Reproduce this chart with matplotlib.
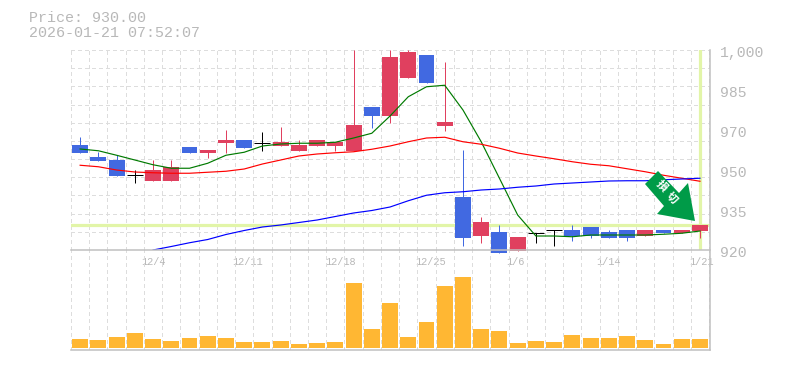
import matplotlib
matplotlib.use('Agg')
import matplotlib.pyplot as plt
from matplotlib.patches import Polygon

W, H = 785, 370

# price candles
opens = [962.0, 957.2, 956.0, 950.0, 947.6, 947.6, 961.2, 958.8, 962.8, 964.0, 963.0, 961.6,
         959.6, 961.6, 961.6, 959.6, 977.2, 973.6, 988.8, 998.0, 969.6, 941.2, 925.6, 927.2,
         919.6, 927.0, 927.9, 928.0, 929.2, 927.2, 928.0, 925.6, 928.0, 926.8, 927.6]
closes = [958.8, 955.6, 949.6, 950.0, 952.0, 953.2, 958.8, 960.0, 964.0, 960.8, 963.0, 963.2,
          962.0, 964.0, 963.2, 970.0, 973.6, 997.2, 999.2, 986.8, 971.2, 924.8, 931.2, 918.8,
          925.2, 927.0, 927.9, 925.6, 925.6, 924.8, 924.8, 928.0, 926.8, 928.0, 930.0]
highs = [965.2, 959.1, 958.0, 952.0, 956.0, 956.0, 961.2, 960.0, 968.0, 964.0, 967.2, 969.2,
         964.0, 964.0, 963.2, 1000.0, 977.2, 1000.0, 1000.0, 998.0, 995.2, 960.0, 933.2, 930.0,
         925.2, 927.0, 927.9, 930.0, 929.2, 928.0, 928.0, 928.0, 928.0, 928.0, 930.0]
lows = [958.8, 955.6, 949.6, 946.8, 947.6, 947.6, 958.8, 956.8, 958.8, 960.8, 959.6, 961.6,
        959.6, 961.6, 959.6, 959.6, 968.8, 970.8, 988.8, 986.8, 967.6, 921.6, 922.8, 918.8,
        919.6, 922.8, 921.6, 923.6, 924.8, 924.8, 923.6, 925.6, 926.8, 926.8, 924.8]

# moving averages
ma_short = [960.4, 959.7, 957.9, 956.0, 954.1, 952.7, 952.7, 954.7, 957.9, 959.1, 961.6, 962.4,
            962.7, 962.7, 963.1, 964.8, 966.7, 973.6, 981.3, 985.3, 985.9, 976.0, 963.3, 948.7,
            934.0, 925.6, 925.6, 925.3, 926.0, 926.0, 926.0, 926.0, 926.3, 926.7, 927.6]
ma_mid = [953.9, 953.3, 952.0, 951.2, 950.9, 950.7, 950.7, 951.1, 951.5, 952.4, 954.4, 956.0,
          957.6, 958.4, 958.9, 959.3, 960.3, 961.6, 963.3, 964.8, 965.1, 963.3, 962.3, 960.7,
          958.8, 957.6, 956.5, 955.3, 954.3, 953.7, 952.5, 951.3, 949.9, 948.7, 947.5]
ma_long = [920.0, 921.4, 922.9, 924.2, 926.2, 927.8, 929.2, 930.0, 931.0, 932.0, 933.4, 934.8,
           935.8, 937.2, 939.7, 941.9, 942.9, 943.3, 944.0, 944.4, 945.1, 945.6, 946.4, 946.8,
           947.2, 947.6, 947.7, 947.7, 948.1, 948.4, 948.7]
ma_long_start = 4

volume = [9, 8, 11, 15, 9, 7, 10, 12, 10, 6, 6, 7, 4, 5, 6, 65, 19, 45,
          11, 26, 62, 71, 19, 17, 5, 7, 6, 13, 10, 10, 12, 8, 4, 9, 9]

x_tick_pos = [4, 9.2, 14.3, 19.2, 23.9, 29, 34.1]
x_tick_labels = ['12/4', '12/11', '12/18', '12/25', '1/6', '1/14', '1/21']
y_tick_vals = [1000, 984, 968, 952, 936, 920]
y_tick_labels = ['1,000', '985', '970', '950', '935', '920']

last_price = 930.0
title_lines = ['Price: 930.00', '2026-01-21 07:52:07']

RED = '#E0405F'
BLUE = '#4169E1'
GRID = '#DDDDDD'
AXIS = '#C0C0C0'
TEXT = '#B8B8B8'
LIME = '#E2F5A8'
MONO = 'Liberation Mono'
PX = 0.72  # one pixel in points


def pixel_axes(fig, left, top, right, bottom):
    return fig.add_axes([left / W, 1 - bottom / H, (right - left) / W, (bottom - top) / H])


def style_grid(ax, n_h):
    ax.set_xlim(-0.5, 34.55)
    ax.set_xticks([])
    ax.set_yticks([])
    for s in ax.spines.values():
        s.set_visible(False)
    for i in range(36):
        ax.axvline(i - 0.5, color=GRID, lw=PX, ls=(0, (3, 3)), zorder=0, antialiased=False)
    ymin, ymax = ax.get_ylim()
    for i in range(n_h):
        ax.axhline(ymin + (ymax - ymin) * i / max(n_h - 1, 1), color=GRID, lw=PX,
                   ls=(0, (3, 3)), zorder=0, antialiased=False)


fig = plt.figure(figsize=(W / 100, H / 100), dpi=100)

# price panel
ax = pixel_axes(fig, 71, 50, 710, 250)
ax.set_ylim(920, 1000)
style_grid(ax, 12)
ax.axhline(last_price, color=LIME, lw=2.3, zorder=1, snap=True)
ax.axvline(34, ymin=0.005, color=LIME, lw=2.3, zorder=1, snap=True)

for i in range(len(opens)):
    o, c, h, l = opens[i], closes[i], highs[i], lows[i]
    if o == c:
        col = 'black'
    elif c > o:
        col = RED
    else:
        col = BLUE
    ax.plot([i, i], [l, h], color=col, lw=PX, zorder=3, clip_on=False, solid_capstyle='butt', snap=True)
    if o == c:
        ax.plot([i - 0.44, i + 0.44], [o, o], color=col, lw=PX, zorder=3, solid_capstyle='butt', snap=True)
    else:
        ax.bar(i, abs(c - o), bottom=min(o, c), width=0.875, color=col, zorder=3, clip_on=False)

xs = list(range(len(ma_short)))
ax.plot(xs, ma_short, color='#007A00', lw=0.85, zorder=4)
ax.plot(xs, ma_mid, color='#FF0000', lw=0.85, zorder=4)
ax.plot(list(range(ma_long_start, len(xs))), ma_long, color='#0000FF', lw=0.85, zorder=4)

# volume panel
vax = pixel_axes(fig, 71, 250, 710, 350)
vax.set_ylim(-2, 98)
style_grid(vax, 0)
vax.bar(range(len(volume)), volume, width=0.875, color='#FFB733', zorder=3)
vax.patch.set_alpha(0)

# frame
for a, b in [((71, 250), (710, 250)), ((71, 350), (710, 350)), ((710, 50), (710, 350))]:
    fig.add_artist(plt.Line2D([a[0] / W, b[0] / W], [1 - a[1] / H, 1 - b[1] / H], color=AXIS, lw=1.1))

# labels
for p, lab in zip(x_tick_pos, x_tick_labels):
    ax.annotate(lab, (p, 920), xytext=(0, -12), textcoords='offset pixels', ha='center', va='center',
                family=MONO, fontsize=7.4, color=TEXT, annotation_clip=False)
for v, lab in zip(y_tick_vals, y_tick_labels):
    ax.annotate(lab, (34.55, v), xytext=(10, -3), textcoords='offset pixels', ha='left', va='center',
                family=MONO, fontsize=10.6, color=TEXT, annotation_clip=False)
fig.text(29 / W, 1 - 18 / H, title_lines[0], family=MONO, fontsize=10.8, color=TEXT, va='center')
fig.text(29 / W, 1 - 33 / H, title_lines[1], family=MONO, fontsize=10.8, color=TEXT, va='center')

# green signal arrow
arrow_px = [(658, 171), (645, 184), (664, 206), (657, 214), (695, 221), (688, 183), (679, 193)]
fig.add_artist(Polygon([(x / W, 1 - y / H) for x, y in arrow_px], closed=True, color='#009B48',
                       lw=0, transform=fig.transFigure, zorder=6))
for ch, cx, cy in [('損', 662, 186), ('切', 672, 198)]:
    fig.text(cx / W, 1 - cy / H, ch, family=['Noto Sans CJK JP', 'DejaVu Sans'], fontsize=8,
             fontweight='bold', color='white', rotation=-45, rotation_mode='anchor',
             ha='center', va='center', zorder=7)

fig.savefig('out.png', dpi=100)
